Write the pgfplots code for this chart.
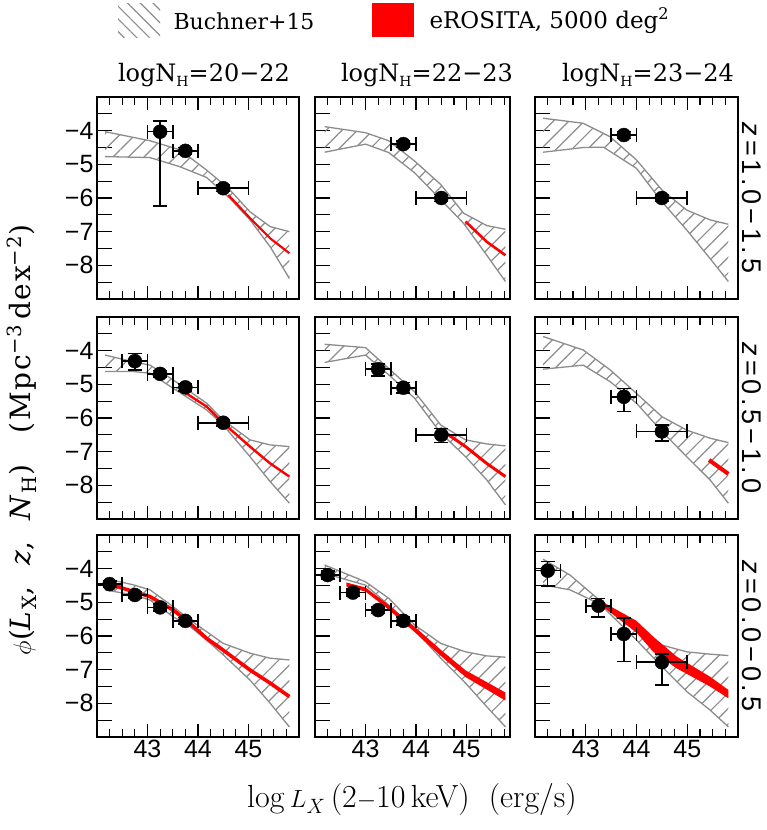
\documentclass[border=0pt]{standalone}
\usepackage{fontspec}
\usepackage{pgfplots}
\pgfplotsset{compat=1.18}
\usetikzlibrary{patterns.meta}
\newfontfamily\dv{DejaVu Serif}
\newfontfamily\dvw{DejaVu Serif}[LetterSpace=6]
\newfontfamily\ls{Liberation Sans}
\newfontfamily\lsw{Liberation Sans}[LetterSpace=14]

\definecolor{bgray}{gray}{0.55}

\pgfplotsset{
  panel/.style={scale only axis, height=202pt, xmin=42, ymin=-9, ymax=-3,
    anchor=north west,
    axis line style={line width=1.7pt},
    xtick={43,44,45},
    minor xtick={42.25,42.5,42.75,43.25,43.5,43.75,44.25,44.5,44.75,45.25,45.5,45.75},
    ytick={-8.5,-8,-7.5,-7,-6.5,-6,-5.5,-5,-4.5,-4,-3.5},
    tick align=inside, xtick pos=both, ytick pos=left,
    xtick style={line width=1.2pt, black, /pgfplots/major tick length=13pt, /pgfplots/minor tick length=8pt},
    ytick style={line width=1.2pt, black, /pgfplots/major tick length=15pt},
    xticklabels={}, yticklabels={},
    ticklabel style={font=\ls\fontsize{25}{25}\selectfont},
  },
  ylab/.style={yticklabels={,−8,,−7,,−6,,−5,,−4,}},
  xlab/.style={xticklabels={43,44,45}},
  band/.style={draw=none, pattern={Lines[angle=45,distance=11pt,line width=1.2pt]}, pattern color=bgray},
  bline/.style={bgray, line width=1.3pt},
  pts/.style={only marks, mark=*, mark size=7pt, black,
    error bars/.cd, x dir=both, x explicit, y dir=both, y explicit,
    error bar style={line width=1.6pt, black},
    error mark=-,
    error mark options={rotate=90, line width=1.6pt, mark size=7pt, black}},
}

\begin{document}
\begin{tikzpicture}
\path[use as bounding box] (0,0) rectangle (766pt,-830pt);

% legend
\fill[pattern={Lines[angle=-45,distance=9pt,line width=1.2pt]}, pattern color=bgray] (118pt,-3pt) rectangle (160pt,-37pt);
\node[anchor=west, font=\dv\fontsize{22}{22}\selectfont] at (170pt,-21pt) {Buchner+15};
\fill[red] (372pt,-3pt) rectangle (414pt,-37pt);
\node[anchor=west, font=\dv\fontsize{23}{23}\selectfont] at (426pt,-21pt) {eROSITA, 5000 deg\textsuperscript{2}};

% column titles
\node[font=\dv\fontsize{24}{24}\selectfont] at (204pt,-75pt) {logN\raisebox{-0.4ex}{\fontsize{14}{14}\selectfont H}=20−22};
\node[font=\dv\fontsize{24}{24}\selectfont] at (427pt,-75pt) {logN\raisebox{-0.4ex}{\fontsize{14}{14}\selectfont H}=22−23};
\node[font=\dv\fontsize{24}{24}\selectfont] at (648pt,-75pt) {logN\raisebox{-0.4ex}{\fontsize{14}{14}\selectfont H}=23−24};

% row titles
\node[rotate=-90, font=\lsw\fontsize{27}{27}\selectfont] at (752pt,-198pt) {\textit{z}=1.0−1.5};
\node[rotate=-90, font=\lsw\fontsize{27}{27}\selectfont] at (752pt,-418pt) {\textit{z}=0.5−1.0};
\node[rotate=-90, font=\lsw\fontsize{27}{27}\selectfont] at (752pt,-636pt) {\textit{z}=0.0−0.5};

% axis labels
\node[rotate=90, font=\dvw\fontsize{28}{28}\selectfont] at (22pt,-440pt) {$\phi$(\textit{L}\textsubscript{X}, \ \textit{z}, \ \textit{N}\textsubscript{H})\ \ \ (Mpc\textsuperscript{−3}\,dex\textsuperscript{−2})};
\node[font=\fontsize{32}{32}\selectfont] at (412pt,-800pt) {log\,$L_X$\,(2$-$10\,keV)\ \ (erg/s)};

% ---------- row 1: z=1.0-1.5
\begin{axis}[panel, ylab, at={(97pt,-97pt)}, width=202pt, xmax=46]
\addplot[band] coordinates {(42.16,-4.03)(43.05,-4.30)(43.64,-4.57)(44.17,-5.17)(44.37,-5.42)(44.63,-5.76)(45.03,-6.41)(45.43,-6.85)(45.81,-7.0)
 (45.81,-8.39)(45.43,-7.45)(45.03,-6.65)(44.63,-6.01)(44.37,-5.66)(44.17,-5.39)(43.64,-5.07)(43.05,-4.80)(42.16,-4.77)} -- cycle;
\addplot[bline] coordinates {(42.16,-4.03)(43.05,-4.30)(43.64,-4.57)(44.17,-5.17)(44.37,-5.42)(44.63,-5.76)(45.03,-6.41)(45.43,-6.85)(45.81,-7.0)};
\addplot[bline] coordinates {(42.16,-4.77)(43.05,-4.80)(43.64,-5.07)(44.17,-5.39)(44.37,-5.66)(44.63,-6.01)(45.03,-6.65)(45.43,-7.45)(45.81,-8.39)};
\addplot[red, line width=2.2pt] coordinates {(44.6,-5.91)(45.03,-6.6)(45.43,-7.2)(45.81,-7.64)};
\addplot[pts] table[x error minus=xm, x error plus=xp, y error minus=ym, y error plus=yp] {
x y xm xp ym yp
43.25 -4.03 0.25 0.25 2.2 0.32
43.75 -4.6 0.25 0.25 0.1 0.1
44.5 -5.71 0.5 0.5 0.1 0.1
};
\end{axis}

\begin{axis}[panel, at={(315pt,-97pt)}, width=195pt, xmax=45.86]
\addplot[band] coordinates {(42.19,-3.88)(43.0,-4.06)(43.46,-4.3)(43.97,-4.9)(44.49,-5.6)(44.94,-6.45)(45.4,-6.82)(45.77,-6.93)
 (45.77,-8.48)(45.4,-7.7)(44.94,-6.75)(44.49,-6.05)(43.97,-5.25)(43.46,-4.65)(43.0,-4.4)(42.19,-4.64)} -- cycle;
\addplot[bline] coordinates {(42.19,-3.88)(43.0,-4.06)(43.46,-4.3)(43.97,-4.9)(44.49,-5.6)(44.94,-6.45)(45.4,-6.82)(45.77,-6.93)};
\addplot[bline] coordinates {(42.19,-4.64)(43.0,-4.4)(43.46,-4.65)(43.97,-5.25)(44.49,-6.05)(44.94,-6.75)(45.4,-7.7)(45.77,-8.48)};
\addplot[red, line width=2.6pt] coordinates {(44.98,-6.7)(45.4,-7.3)(45.77,-7.7)};
\addplot[pts] table[x error minus=xm, x error plus=xp, y error minus=ym, y error plus=yp] {
x y xm xp ym yp
43.75 -4.4 0.25 0.25 0.1 0.1
44.5 -6.0 0.5 0.5 0.1 0.1
};
\end{axis}

\begin{axis}[panel, at={(535pt,-97pt)}, width=203pt, xmax=46]
\addplot[band] coordinates {(42.16,-3.63)(42.95,-3.78)(43.48,-4.18)(44.0,-4.87)(44.5,-5.76)(44.99,-6.36)(45.45,-6.65)(45.81,-6.78)
 (45.81,-8.48)(45.45,-7.8)(44.99,-6.95)(44.5,-6.11)(44.0,-5.12)(43.35,-4.49)(42.95,-4.5)(42.16,-4.64)} -- cycle;
\addplot[bline] coordinates {(42.16,-3.63)(42.95,-3.78)(43.48,-4.18)(44.0,-4.87)(44.5,-5.76)(44.99,-6.36)(45.45,-6.65)(45.81,-6.78)};
\addplot[bline] coordinates {(42.16,-4.64)(42.95,-4.5)(43.35,-4.49)(44.0,-5.12)(44.5,-6.11)(44.99,-6.95)(45.45,-7.8)(45.81,-8.48)};
\addplot[pts] table[x error minus=xm, x error plus=xp, y error minus=ym, y error plus=yp] {
x y xm xp ym yp
43.75 -4.13 0.25 0.25 0.1 0.1
44.5 -6.0 0.5 0.5 0.1 0.1
};
\end{axis}

% ---------- row 2: z=0.5-1.0
\begin{axis}[panel, ylab, at={(97pt,-317pt)}, width=202pt, xmax=46]
\addplot[band] coordinates {(42.16,-4.13)(42.72,-4.33)(43.05,-4.43)(43.51,-4.87)(44.17,-5.56)(44.5,-6.06)(45.03,-6.65)(45.43,-6.8)(45.81,-6.85)
 (45.81,-8.53)(45.43,-7.89)(45.03,-7.15)(44.5,-6.21)(44.17,-5.76)(43.51,-5.12)(43.05,-4.67)(42.72,-4.62)(42.16,-4.62)} -- cycle;
\addplot[bline] coordinates {(42.16,-4.13)(42.72,-4.33)(43.05,-4.43)(43.51,-4.87)(44.17,-5.56)(44.5,-6.06)(45.03,-6.65)(45.43,-6.8)(45.81,-6.85)};
\addplot[bline] coordinates {(42.16,-4.62)(42.72,-4.62)(43.05,-4.67)(43.51,-5.12)(44.17,-5.76)(44.5,-6.21)(45.03,-7.15)(45.43,-7.89)(45.81,-8.53)};
\addplot[red, line width=2.4pt] coordinates {(43.77,-5.27)(44.17,-5.66)(44.5,-6.15)(45.03,-6.85)(45.43,-7.35)(45.81,-7.74)};
\addplot[pts] table[x error minus=xm, x error plus=xp, y error minus=ym, y error plus=yp] {
x y xm xp ym yp
42.75 -4.31 0.25 0.25 0.26 0.23
43.25 -4.69 0.25 0.25 0.1 0.1
43.75 -5.09 0.25 0.25 0.1 0.1
44.5 -6.14 0.5 0.5 0.1 0.1
};
\end{axis}

\begin{axis}[panel, at={(315pt,-317pt)}, width=195pt, xmax=45.86]
\addplot[band] coordinates {(42.19,-3.81)(43.0,-3.91)(43.46,-4.53)(43.97,-5.22)(44.49,-6.21)(44.98,-6.65)(45.4,-6.77)(45.77,-6.83)
 (45.77,-8.58)(45.4,-7.84)(44.98,-7.15)(44.49,-6.45)(43.97,-5.41)(43.46,-4.72)(43.0,-4.13)(42.19,-4.35)} -- cycle;
\addplot[bline] coordinates {(42.19,-3.81)(43.0,-3.91)(43.46,-4.53)(43.97,-5.22)(44.49,-6.21)(44.98,-6.65)(45.4,-6.77)(45.77,-6.83)};
\addplot[bline] coordinates {(42.19,-4.35)(43.0,-4.13)(43.46,-4.72)(43.97,-5.41)(44.49,-6.45)(44.98,-7.15)(45.4,-7.84)(45.77,-8.58)};
\addplot[red, line width=3pt] coordinates {(44.55,-6.4)(44.98,-6.85)(45.4,-7.35)(45.77,-7.74)};
\addplot[pts] table[x error minus=xm, x error plus=xp, y error minus=ym, y error plus=yp] {
x y xm xp ym yp
43.25 -4.55 0.25 0.25 0.2 0.15
43.75 -5.1 0.25 0.25 0.15 0.15
44.5 -6.5 0.5 0.5 0.23 0.19
};
\end{axis}

\begin{axis}[panel, at={(535pt,-317pt)}, width=203pt, xmax=46]
\addplot[band] coordinates {(42.16,-3.58)(42.95,-3.98)(43.48,-4.57)(44.0,-5.27)(44.5,-5.96)(44.99,-6.36)(45.45,-6.6)(45.81,-6.73)
 (45.81,-8.53)(45.45,-7.84)(44.99,-7.15)(44.5,-6.4)(44.0,-5.56)(43.48,-4.92)(42.95,-4.43)(42.16,-4.55)} -- cycle;
\addplot[bline] coordinates {(42.16,-3.58)(42.95,-3.98)(43.48,-4.57)(44.0,-5.27)(44.5,-5.96)(44.99,-6.36)(45.45,-6.6)(45.81,-6.73)};
\addplot[bline] coordinates {(42.16,-4.55)(42.95,-4.43)(43.48,-4.92)(44.0,-5.56)(44.5,-6.4)(44.99,-7.15)(45.45,-7.84)(45.81,-8.53)};
\addplot[red, line width=4pt] coordinates {(45.43,-7.25)(45.81,-7.66)};
\addplot[pts] table[x error minus=xm, x error plus=xp, y error minus=ym, y error plus=yp] {
x y xm xp ym yp
43.75 -5.37 0.25 0.25 0.44 0.25
44.5 -6.4 0.5 0.5 0.28 0.19
};
\end{axis}

% ---------- row 3: z=0.0-0.5
\begin{axis}[panel, ylab, xlab, at={(97pt,-535pt)}, width=202pt, xmax=46]
\addplot[band] coordinates {(42.16,-4.29)(42.72,-4.48)(43.05,-4.63)(43.51,-5.13)(43.84,-5.52)(44.17,-5.87)(44.5,-6.22)(45.03,-6.51)(45.43,-6.66)(45.81,-6.71)
 (45.81,-8.7)(45.43,-8.0)(45.03,-7.31)(44.5,-6.56)(44.17,-6.12)(43.84,-5.72)(43.51,-5.43)(43.05,-4.93)(42.72,-4.78)(42.16,-4.63)} -- cycle;
\addplot[bline] coordinates {(42.16,-4.29)(42.72,-4.48)(43.05,-4.63)(43.51,-5.13)(43.84,-5.52)(44.17,-5.87)(44.5,-6.22)(45.03,-6.51)(45.43,-6.66)(45.81,-6.71)};
\addplot[bline] coordinates {(42.16,-4.63)(42.72,-4.78)(43.05,-4.93)(43.51,-5.43)(43.84,-5.72)(44.17,-6.12)(44.5,-6.56)(45.03,-7.31)(45.43,-8.0)(45.81,-8.7)};
\addplot[red, line width=3.6pt] coordinates {(42.16,-4.42)(43.05,-4.83)(43.51,-5.23)(43.84,-5.62)(44.17,-6.07)(44.5,-6.42)(45.03,-7.01)(45.43,-7.4)(45.81,-7.8)};
\addplot[pts] table[x error minus=xm, x error plus=xp, y error minus=ym, y error plus=yp] {
x y xm xp ym yp
42.25 -4.46 0.25 0.25 0.1 0.1
42.75 -4.78 0.25 0.25 0.1 0.1
43.25 -5.15 0.25 0.25 0.1 0.1
43.75 -5.55 0.25 0.25 0.1 0.1
};
\end{axis}

\begin{axis}[panel, xlab, at={(315pt,-535pt)}, width=195pt, xmax=45.86]
\addplot[band] coordinates {(42.19,-3.89)(43.0,-4.39)(43.46,-4.88)(43.97,-5.67)(44.49,-6.22)(44.98,-6.47)(45.4,-6.59)(45.77,-6.63)
 (45.77,-8.7)(45.4,-8.1)(44.98,-7.4)(44.49,-6.66)(43.97,-5.82)(43.46,-5.08)(43.0,-4.49)(42.19,-4.14)} -- cycle;
\addplot[bline] coordinates {(42.19,-3.89)(43.0,-4.39)(43.46,-4.88)(43.97,-5.67)(44.49,-6.22)(44.98,-6.47)(45.4,-6.59)(45.77,-6.63)};
\addplot[bline] coordinates {(42.19,-4.14)(43.0,-4.49)(43.46,-5.08)(43.97,-5.82)(44.49,-6.66)(44.98,-7.4)(45.4,-8.1)(45.77,-8.7)};
\addplot[fill=red, draw=none] coordinates {(42.62,-4.41)(43.0,-4.56)(43.46,-5.08)(43.97,-5.72)(44.49,-6.41)(44.98,-7.02)(45.4,-7.37)(45.77,-7.68)
 (45.77,-7.92)(45.4,-7.59)(44.98,-7.22)(44.49,-6.59)(43.97,-5.88)(43.46,-5.22)(43.0,-4.68)(42.62,-4.53)} -- cycle;
\addplot[pts] table[x error minus=xm, x error plus=xp, y error minus=ym, y error plus=yp] {
x y xm xp ym yp
42.25 -4.19 0.25 0.25 0.12 0.12
42.75 -4.71 0.25 0.25 0.1 0.1
43.25 -5.23 0.25 0.25 0.1 0.1
43.75 -5.55 0.25 0.25 0.12 0.12
};
\end{axis}

\begin{axis}[panel, xlab, at={(535pt,-535pt)}, width=203pt, xmax=46]
\addplot[band] coordinates {(42.16,-3.72)(42.69,-4.19)(43.28,-4.95)(44.0,-5.87)(44.5,-6.27)(44.99,-6.47)(45.45,-6.54)(45.81,-6.58)
 (45.81,-8.7)(45.45,-8.2)(44.99,-7.65)(44.5,-6.91)(44.0,-6.12)(43.28,-5.05)(42.69,-4.63)(42.16,-4.48)} -- cycle;
\addplot[bline] coordinates {(42.16,-3.72)(42.69,-4.19)(43.28,-4.95)(44.0,-5.87)(44.5,-6.27)(44.99,-6.47)(45.45,-6.54)(45.81,-6.58)};
\addplot[bline] coordinates {(42.16,-4.48)(42.69,-4.63)(43.28,-5.05)(44.0,-6.12)(44.5,-6.91)(44.99,-7.65)(45.45,-8.2)(45.81,-8.7)};
\addplot[fill=red, draw=none] coordinates {(43.38,-5.03)(44.0,-5.55)(44.33,-6.02)(44.79,-6.61)(45.45,-7.21)(45.81,-7.6)
 (45.81,-7.85)(45.45,-7.5)(44.79,-6.96)(44.33,-6.47)(44.0,-5.9)(43.38,-5.18)} -- cycle;
\addplot[pts] table[x error minus=xm, x error plus=xp, y error minus=ym, y error plus=yp] {
x y xm xp ym yp
42.25 -4.06 0.25 0.25 0.45 0.27
43.25 -5.1 0.25 0.25 0.33 0.22
43.75 -5.94 0.25 0.25 0.82 0.47
44.5 -6.78 0.5 0.5 0.68 0.24
};
\end{axis}
\end{tikzpicture}
\end{document}
